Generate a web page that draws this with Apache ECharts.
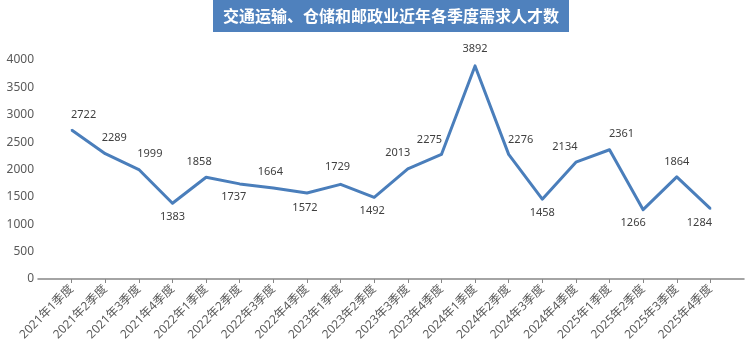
<!DOCTYPE html>
<html>
<head>
<meta charset="utf-8">
<script src="https://cdn.jsdelivr.net/npm/echarts@6/dist/echarts.min.js"></script>
<style>html,body{margin:0;padding:0;background:#fff}#c{width:750px;height:354px}</style>
</head>
<body>
<div id="c"></div>
<script>
var titleText = '交通运输、仓储和邮政业近年各季度需求人才数';
var categories = ['2021年1季度','2021年2季度','2021年3季度','2021年4季度','2022年1季度','2022年2季度','2022年3季度','2022年4季度','2023年1季度','2023年2季度','2023年3季度','2023年4季度','2024年1季度','2024年2季度','2024年3季度','2024年4季度','2025年1季度','2025年2季度','2025年3季度','2025年4季度'];
var values = [2722,2289,1999,1383,1858,1737,1664,1572,1729,1492,2013,2275,3892,2276,1458,2134,2361,1266,1864,1284];
var yTicks = {min: 0, max: 4000, interval: 500};
// label offsets (style only): label centre relative to point
var labelOffsets = [[12,-15],[9,-16],[11,-16],[0,14],[-7,-15],[-6,13],[-3,-16],[-2,15],[-3,-17],[-2,14],[-10,-16],[-12,-15],[0,-17],[12,-15],[0,14],[-11,-15],[12,-16],[-10,13],[0,-15],[-11,14]];

var font = '"Noto Sans", "Noto Sans CJK SC", sans-serif';
var cats = [''].concat(categories).concat(['']);
var seriesData = [null];
values.forEach(function(v, i){
  seriesData.push({value: v, label: {offset: labelOffsets[i]}});
});
seriesData.push(null);

var chart = echarts.init(document.getElementById('c'), null, {renderer: 'canvas'});
chart.setOption({
  animation: false,
  backgroundColor: '#fff',
  title: {
    text: titleText,
    left: 213, top: 0,
    padding: [7, 10, 7, 10],
    backgroundColor: '#4F81BD',
    textStyle: {color: '#fff', fontSize: 16, fontWeight: 'bold', fontFamily: '"Noto Sans CJK SC", sans-serif', lineHeight: 18}
  },
  grid: {left: 38, right: 6, top: 60, bottom: 75},
  xAxis: {
    type: 'category',
    data: cats,
    boundaryGap: false,
    axisLine: {lineStyle: {color: '#868686', width: 1.5}},
    axisTick: {length: 4, interval: function(i){ return i > 0 && i < cats.length - 1; }, lineStyle: {color: '#868686'}},
    axisLabel: {interval: 0, rotate: 45, color: '#595959', fontSize: 12, fontFamily: font, margin: 8}
  },
  yAxis: {
    type: 'value',
    min: yTicks.min, max: yTicks.max, interval: yTicks.interval,
    splitLine: {show: false},
    axisLine: {show: false},
    axisTick: {show: false},
    axisLabel: {color: '#595959', fontSize: 12, fontFamily: font, margin: 4, formatter: function(v){ return String(v); }}
  },
  series: [{
    type: 'line',
    data: seriesData,
    connectNulls: false,
    symbol: 'circle',
    symbolSize: 2,
    itemStyle: {color: '#4A7EBB'},
    lineStyle: {color: '#4A7EBB', width: 3, join: 'round'},
    label: {show: true, position: 'inside', color: '#404040', fontSize: 11, fontFamily: font}
  }]
});
</script>
</body>
</html>
